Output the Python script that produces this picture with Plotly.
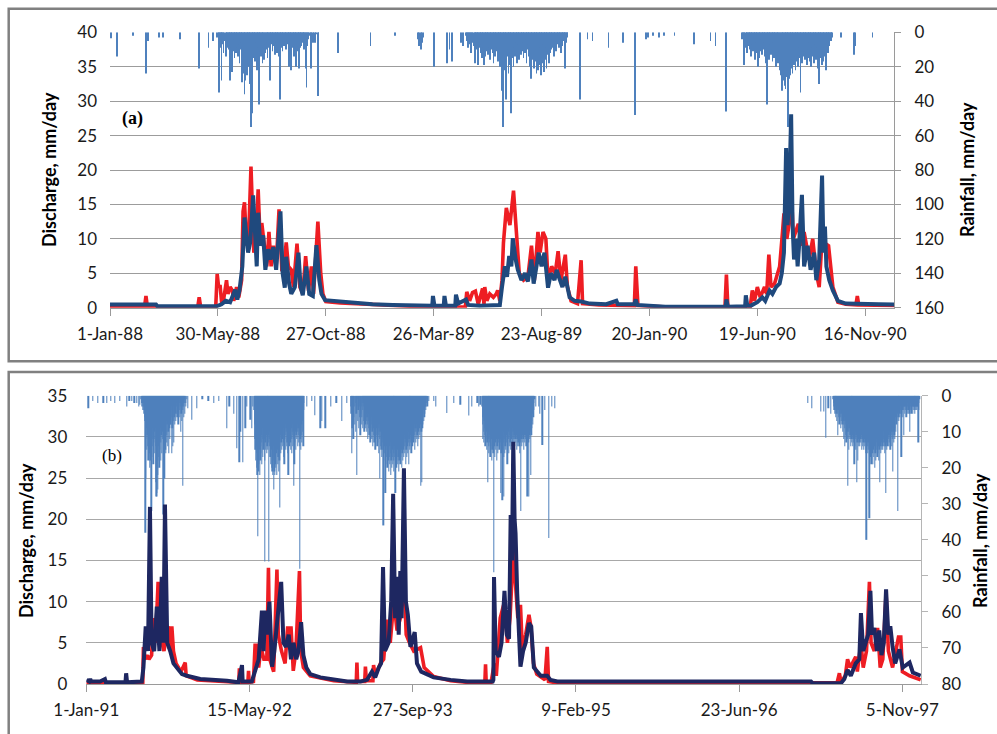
import numpy as np
import pandas as pd
import plotly.graph_objects as go

# ---------------------------------------------------------------------------
# Panel (a): 1988-1990.  Day numbers count from 1-Jan-88.
# ---------------------------------------------------------------------------
START_A = "1988-01-01"

# isolated rain days (day number, mm/day)
rain_a_days = [1, 10, 32, 50, 53, 68, 74, 97, 124, 137, 143, 317, 362, 396,
               428, 430, 432, 434, 436, 450, 469, 472, 475, 488, 491,
               653, 664, 671, 693, 713, 730, 745, 748, 755, 763, 770, 785,
               812, 835, 842, 856, 1016, 1034, 1036, 1060]
rain_a_mm = [3.5, 14, 2, 24, 5, 3, 3, 4, 21, 9, 5, 12, 8, 2,
             4, 8, 10, 6, 3, 20, 18, 10, 17, 6, 8,
             39, 4, 5, 9, 6, 48, 4, 3, 2, 3, 2, 2,
             7, 5, 8, 46, 3, 13, 8, 3]

# wet-season daily rainfall (first day number, one value per day)
wet88_start = 148
wet88_mm = [0, 3, 0, 6, 35, 5, 9, 28, 4, 7,
            12, 5, 0, 14, 8, 3, 9, 10, 6, 28,
            9, 6, 23, 11, 4, 15, 8, 12, 5, 9,
            14, 7, 18, 10, 6, 13, 29, 24, 22, 36,
            28, 12, 25, 18, 14, 20, 8, 30, 55, 18,
            47, 12, 15, 10, 17, 6, 22, 12, 9, 42,
            11, 8, 14, 5, 18, 9, 16, 7, 12, 10,
            6, 15, 9, 4, 28, 12, 7, 3, 11, 8,
            5, 13, 9, 6, 12, 10, 4, 14, 39, 3,
            9, 5, 11, 3, 8, 6, 2, 10, 4, 7,
            3, 20, 6, 4, 22, 2, 9, 5, 14, 3,
            7, 20, 5, 11, 3, 21, 9, 4, 8, 2,
            6, 3, 10, 2, 21, 32, 8, 3, 4, 0,
            2, 21, 5, 0, 6, 3, 0, 6, 1, 0,
            0, 37, 2]

wet89_start = 495
wet89_mm = [2, 5, 0, 9, 4, 0, 7, 12, 3, 6,
            0, 8, 18, 4, 10, 6, 2, 19, 9, 5,
            12, 7, 15, 3, 9, 19, 14, 6, 11, 8,
            4, 13, 9, 16, 7, 10, 5, 12, 18, 8,
            14, 6, 11, 9, 17, 5, 13, 20, 10, 15,
            34, 55, 18, 12, 22, 16, 39, 14, 10, 24,
            13, 19, 8, 47, 15, 11, 20, 9, 14, 6,
            12, 18, 7, 10, 16, 5, 13, 9, 11, 6,
            15, 8, 12, 4, 18, 10, 7, 14, 9, 20,
            27, 11, 16, 8, 21, 13, 17, 10, 24, 15,
            22, 12, 19, 9, 25, 14, 18, 7, 23, 11,
            16, 9, 21, 13, 8, 18, 5, 12, 7, 10,
            4, 9, 14, 3, 8, 11, 5, 7, 2, 9,
            6, 3, 12, 4, 8, 2, 5, 14, 21, 6,
            3, 1]

wet90_start = 878
wet90_mm = [0, 4, 2, 19, 6, 0, 9, 3, 12, 5,
            8, 2, 10, 14, 4, 7, 11, 3, 9, 16,
            6, 12, 5, 20, 15, 8, 11, 4, 13, 7,
            10, 6, 14, 9, 18, 42, 12, 8, 16, 11,
            7, 13, 10, 17, 6, 15, 9, 12, 20, 8,
            14, 18, 11, 22, 16, 25, 34, 19, 28, 24,
            31, 33, 26, 22, 30, 55, 27, 18, 25, 21,
            16, 24, 12, 19, 14, 22, 10, 17, 13, 20,
            9, 15, 35, 12, 18, 8, 14, 11, 16, 7,
            13, 19, 10, 15, 6, 17, 12, 20, 9, 14,
            11, 18, 7, 13, 16, 9, 21, 12, 30, 10,
            15, 8, 19, 11, 17, 9, 14, 22, 20, 6,
            12, 4, 8, 2, 5, 1, 3, 0]

# discharge, mm/day (day number, value)
obs_a_day = [0, 48, 50, 52, 122, 124, 126, 147, 149, 151, 153, 155, 158, 162,
             164, 167, 170, 172, 176, 179, 183, 185, 187, 190, 193, 196, 200,
             203, 206, 209, 211, 215, 218, 221, 224, 227, 231, 235, 239, 242,
             245, 248, 252, 255, 260, 264, 268, 272, 276, 280, 283, 289, 293,
             296, 300, 320, 360, 400, 440, 480, 494, 496, 500, 504, 508, 512,
             518, 520, 521, 524, 528, 533, 537, 539, 542, 545, 547, 551, 556,
             561, 565, 569, 575, 581, 586, 590, 595, 598, 602, 606, 609, 614,
             619, 623, 625, 627, 633, 636, 641, 650, 655, 657, 680, 708, 729,
             731, 734, 755, 775, 855, 857, 859, 890, 893, 896, 900, 904, 910,
             913, 916, 919, 924, 928, 931, 935, 937, 941, 944, 947, 950, 957,
             961, 965, 972, 977, 982, 986, 990, 995, 999, 1005, 1012, 1023,
             1037, 1039, 1041, 1095]
obs_a_q = [0.1, 0.1, 1.7, 0.1, 0.1, 1.5, 0.1, 0.1, 4.9, 3.0, 3.3, 1.0, 1.2, 4.0,
           2.0, 3.0, 2.5, 1.0, 3.0, 1.5, 4.0, 14.0, 15.3, 9, 11, 20.5, 8.0,
           10, 17.2, 9, 12.3, 8, 6, 11.0, 6, 9, 6, 14.3, 5.3, 6,
           9.5, 6, 5.5, 3, 9.3, 3.0, 2, 7.5, 2.5, 6.0, 2.0, 12.5, 5,
           2, 0.9, 0.7, 0.5, 0.2, 0.1, 0.1, 0.1, 2.3, 1.0, 2.2, 2.4, 0.5,
           2.8, 0.5, 3.0, 1.0, 2.0, 1.5, 2.0, 2.5, 1.0, 4, 9.4, 14.5, 12,
           17.0, 10, 5, 4, 4.5, 9, 4, 11.0, 8, 11, 10, 4, 6,
           5, 8.2, 6, 4, 7.7, 3, 1, 0.6, 6.9, 0.6, 0.4, 0.3, 0.3,
           6.0, 0.3, 0.2, 0.1, 0.1, 4.8, 0.1, 0.1, 2.5, 1, 3.0, 1.5, 3.0,
           2.0, 7.7, 3, 3.5, 5, 6, 11.0, 13.7, 10, 12, 18, 10, 12.2,
           9, 11, 7, 10, 5, 3, 10, 9.3, 9, 3, 0.8, 0.5,
           0.4, 1.7, 0.4, 0.3]

sim_a_day = [0, 64, 66, 148, 155, 161, 167, 171, 174, 177, 180, 184, 187, 192,
             195, 199, 202, 204, 206, 209, 213, 216, 220, 223, 227, 231, 237,
             240, 243, 245, 249, 252, 257, 262, 265, 268, 273, 277, 282, 287,
             291, 294, 299, 310, 338, 361, 365, 393, 426, 448, 449, 451, 464,
             465, 467, 480, 481, 484, 495, 498, 514, 523, 542, 545, 549, 552,
             555, 558, 560, 564, 567, 572, 577, 581, 586, 589, 592, 596, 600,
             604, 609, 613, 618, 621, 625, 629, 633, 639, 646, 655, 667, 690,
             704, 706, 729, 731, 733, 764, 772, 856, 857, 859, 883, 884, 886,
             891, 900, 907, 911, 917, 921, 926, 931, 934, 937, 940, 942, 944,
             947, 949, 951, 954, 956, 958, 962, 965, 970, 974, 979, 982, 986,
             990, 992, 994, 996, 1000, 1005, 1012, 1023, 1069, 1095]
sim_a_q = [0.45, 0.45, 0.2, 0.2, 0.5, 1.0, 0.8, 2.0, 2.6, 1.2, 2.5, 6.0, 13.1, 8.0,
           9.5, 16.3, 10, 6.0, 13.8, 9, 10.5, 5.5, 8.5, 7.0, 8.8, 5.5, 14.0,
           5.0, 2.9, 7.4, 3.5, 2.0, 3.0, 8.0, 3.0, 1.8, 6.0, 2.0, 1.7, 9.1,
           4.0, 2.0, 1.1, 1.0, 0.8, 0.6, 0.5, 0.4, 0.3, 0.3, 1.7, 0.3, 0.3,
           1.7, 0.3, 0.3, 1.9, 0.6, 1.2, 0.4, 0.3, 0.3, 0.4, 3.0, 6.0, 4.5,
           7.5, 6, 10.1, 7, 5.5, 4.0, 5.0, 3.8, 7.0, 3.5, 5.5, 8.0, 6,
           8.0, 2.9, 5.0, 4.0, 5.5, 4.2, 3.0, 4.5, 1.5, 1.0, 0.9, 0.6, 0.5,
           1.0, 0.5, 0.5, 1.2, 0.4, 0.3, 0.15, 0.15, 1.2, 0.15, 0.2, 1.8, 0.3,
           0.3, 0.8, 1.5, 1.0, 2.5, 2.0, 3.0, 3.5, 5.0, 8.0, 23.2, 12, 15,
           28.1, 12, 7, 10, 6, 9, 16.4, 6, 9, 5.5, 8, 4, 7,
           19.2, 8, 11.8, 6, 4, 2.5, 1.0, 0.6, 0.5, 0.45]

# ---------------------------------------------------------------------------
# Panel (b): 1991-1997.  Day numbers count from 1-Jan-91.
# ---------------------------------------------------------------------------
START_B = "1991-01-01"

rain_b_days = [6, 20, 35, 52, 62, 75, 88, 103, 124, 132, 140, 147, 155, 160, 164,
               311, 323, 339, 355, 374, 390, 405,
               431, 438, 451, 461, 469, 472, 480, 487, 492, 502, 507, 511,
               676, 690, 701, 717, 722, 732, 750, 766, 783, 799,
               1050, 1064, 1070, 1105, 1125, 1146, 1172, 1180, 1198, 1203, 1207,
               1378, 1386, 1390, 1397, 1405, 1417, 1425, 1435,
               2210, 2223, 2251, 2259, 2266, 2273, 2280]
rain_b_mm = [3.5, 1.5, 2, 2, 2, 1.5, 2, 1.5, 3, 1.5, 1.5, 2, 2, 3, 2.5,
             3.5, 6.7, 3.5, 1, 1.5, 2, 1.5,
             9, 3, 5, 14.6, 18.5, 10, 18.5, 9, 3, 6.7, 9, 3,
             3, 1.5, 5.4, 9, 7, 9, 3, 2, 7, 2,
             1.5, 1.5, 3, 4.8, 2, 2.5, 5.5, 3, 2, 3, 2.5,
             3, 3, 5, 13.7, 4, 39.5, 3, 3.5,
             2, 3.5, 4.4, 4.4, 11.7, 3.5, 5]

wet91_start = 168
wet91_mm = [1, 0, 2, 3, 2, 4, 3, 2, 5, 3,
            4, 7, 6, 38, 12, 23, 9, 15, 8, 11,
            14, 7, 18, 12, 9, 16, 20, 13, 18, 10,
            15, 32, 11, 17, 9, 14, 12, 19, 8, 13,
            10, 16, 12, 9, 14, 24, 28, 27, 20, 28,
            26, 18, 22, 14, 17, 12, 20, 10, 15, 9,
            13, 18, 11, 8, 16, 10, 12, 7, 33, 14,
            9, 23, 12, 8, 15, 10, 16, 7, 11, 13,
            8, 14, 6, 10, 16, 7, 9, 5, 12, 8,
            4, 8, 3, 16, 6, 9, 5, 14, 4, 7,
            13, 3, 6, 2, 8, 5, 3, 7, 2, 5,
            3, 6, 2, 4, 8, 3, 5, 1, 4, 6,
            2, 10, 3, 5, 2, 7, 3, 25, 4, 2,
            6, 3, 1, 5, 2, 0, 3, 2, 0, 1]

wet92_start = 515
wet92_mm = [4, 8, 12, 15, 10, 18, 14, 20, 16, 22,
            39, 17, 21, 13, 19, 15, 22, 12, 18, 14,
            16, 11, 19, 13, 9, 17, 12, 15, 10, 14,
            12, 18, 46, 13, 9, 15, 11, 16, 10, 14,
            12, 9, 15, 11, 13, 46, 10, 14, 12, 17,
            11, 19, 15, 20, 13, 21, 17, 22, 14, 26,
            18, 21, 15, 22, 19, 13, 20, 16, 12, 22,
            15, 19, 13, 17, 21, 12, 18, 31, 14, 11,
            16, 10, 13, 9, 15, 12, 8, 14, 11, 17,
            9, 13, 19, 10, 12, 8, 15, 11, 9, 14,
            10, 13, 8, 16, 22, 12, 9, 14, 11, 8,
            13, 10, 15, 9, 12, 16, 8, 11, 14, 10,
            25, 12, 19, 9, 13, 10, 8, 15, 11, 9,
            12, 8, 14, 10, 9, 13, 7, 11, 10, 14,
            48, 12, 9, 15, 8, 11, 13, 7, 10, 6,
            14, 4, 2]

wet93_start = 809
wet93_mm = [0, 3, 0, 5, 16, 2, 9, 0, 4, 12,
            1, 6, 0, 8, 3, 0, 10, 2, 5, 22,
            3, 0, 7, 1, 4, 9, 2, 0, 6, 3,
            11, 2, 5, 0, 8, 3, 6, 1, 9, 4,
            2, 7, 3, 10, 5, 4, 8, 6, 9, 5,
            7, 10, 6, 8, 12, 5, 9, 7, 11, 6,
            8, 13, 7, 9, 6, 12, 8, 10, 14, 7,
            9, 11, 6, 13, 8, 10, 15, 7, 12, 9,
            11, 8, 14, 10, 7, 13, 9, 16, 11, 8,
            12, 23, 10, 14, 9, 15, 12, 17, 11, 13,
            15, 36, 12, 18, 14, 16, 13, 27, 15, 19,
            14, 17, 12, 20, 16, 13, 18, 15, 21, 14,
            17, 19, 13, 22, 16, 18, 14, 20, 15, 17,
            19, 13, 18, 16, 21, 14, 17, 15, 27, 18,
            16, 20, 14, 18, 15, 19, 13, 17, 21, 15,
            18, 14, 16, 19, 13, 17, 15, 20, 14, 16,
            12, 18, 15, 13, 17, 11, 14, 16, 12, 19,
            13, 15, 11, 17, 14, 12, 16, 10, 13, 19,
            12, 14, 10, 15, 11, 13, 9, 16, 12, 10,
            14, 11, 9, 13, 10, 12, 8, 15, 11, 9,
            13, 10, 8, 12, 9, 11, 7, 14, 10, 8,
            12, 9, 7, 11, 8, 25, 6, 10, 24, 7,
            9, 5, 8, 4, 7, 3, 6, 2, 5, 3,
            4, 1, 3, 0, 2, 1, 3]

wet94_start = 1213
wet94_mm = [3, 8, 12, 6, 10, 13, 7, 11, 9, 14,
            8, 12, 10, 15, 9, 13, 11, 24, 10, 14,
            12, 16, 9, 13, 11, 17, 10, 14, 12, 18,
            11, 15, 13, 10, 16, 12, 49, 14, 11, 17,
            13, 10, 15, 12, 18, 11, 14, 9, 16, 12,
            13, 10, 15, 11, 14, 12, 27, 13, 16, 11,
            14, 29, 12, 15, 10, 17, 28, 13, 11, 16,
            12, 14, 10, 15, 11, 13, 9, 19, 12, 14,
            10, 16, 12, 9, 14, 11, 13, 10, 15, 12,
            11, 14, 9, 13, 16, 10, 12, 15, 11, 9,
            14, 12, 10, 13, 11, 15, 9, 12, 14, 10,
            13, 11, 9, 14, 12, 10, 16, 11, 13, 32,
            12, 10, 14, 11, 9, 13, 12, 10, 15, 11,
            9, 13, 11, 12, 10, 14, 9, 12, 28, 11,
            10, 13, 9, 28, 11, 8, 12, 10, 22, 9,
            11, 7, 9, 5, 8, 3, 6, 2, 4, 1]

wet97_start = 2288
wet97_mm = [1, 3, 2, 4, 3, 5, 2, 4, 6, 3,
            5, 4, 7, 3, 11, 5, 4, 6, 3, 8,
            5, 7, 4, 6, 9, 5, 7, 4, 8, 6,
            10, 7, 12, 8, 6, 14, 9, 7, 11, 8,
            13, 9, 7, 10, 25, 12, 8, 15, 10, 9,
            12, 8, 11, 14, 9, 12, 10, 13, 8, 11,
            14, 10, 12, 9, 13, 19, 11, 14, 10, 12,
            15, 11, 9, 24, 13, 18, 10, 12, 14, 11,
            13, 10, 14, 12, 9, 13, 11, 15, 10, 12,
            14, 11, 13, 10, 15, 12, 14, 11, 13, 12,
            16, 40, 13, 15, 11, 14, 12, 16, 13, 15,
            12, 34, 14, 11, 17, 13, 15, 19, 12, 14,
            16, 13, 19, 15, 12, 17, 14, 20, 13, 16,
            14, 18, 12, 15, 13, 17, 11, 16, 14, 18,
            13, 15, 24, 12, 14, 16, 11, 13, 15, 12,
            14, 11, 13, 15, 12, 14, 10, 13, 16, 12,
            14, 11, 27, 13, 15, 12, 14, 10, 13, 11,
            12, 14, 10, 13, 11, 15, 9, 12, 10, 14,
            11, 9, 21, 12, 10, 13, 8, 11, 9, 12,
            6, 10, 5, 8, 4, 7, 5, 3, 32, 6,
            4, 7, 3, 5, 4, 6, 3, 5, 4, 17,
            3, 5, 4, 2, 6, 3, 4, 11, 3, 2,
            5, 3, 4, 2, 6, 3, 4, 2, 5, 3,
            4, 2, 3, 5, 10, 3, 2, 4, 3, 5,
            2, 4, 3, 2, 5, 3, 4, 2, 3, 4,
            2, 5, 3, 2, 4, 3, 2, 4, 3, 2,
            3, 13, 2, 4, 1]

obs_b_day = [0, 173, 175, 180, 186, 192, 200, 206, 212, 220, 226, 232, 238, 245,
             252, 257, 262, 267, 275, 290, 303, 306, 340, 420, 467, 469, 471,
             495, 497, 499, 512, 517, 523, 528, 535, 544, 553, 558, 562, 574,
             584, 588, 598, 609, 617, 622, 627, 634, 642, 653, 657, 665, 686,
             758, 805, 827, 829, 831, 853, 855, 858, 878, 880, 885, 901, 911,
             921, 931, 942, 952, 962, 973, 980, 990, 1003, 1024, 1035, 1064,
             1116, 1167, 1221, 1223, 1225, 1240, 1250, 1256, 1268, 1274, 1281,
             1290, 1298, 1308, 1315, 1322, 1330, 1336, 1346, 1356, 1362, 1370,
             1380, 1405, 1412, 1416, 1440, 2300, 2307, 2312, 2325, 2332, 2340,
             2357, 2362, 2373, 2380, 2390, 2399, 2404, 2414, 2424, 2432, 2440,
             2450, 2457, 2470, 2488, 2495, 2500, 2522, 2556]
obs_b_q = [0.1, 0.1, 4.5, 3.0, 3.5, 3.0, 3.5, 8.0, 5.0, 12.4, 6.0, 5.0, 4.0, 6.0,
           7.0, 4.0, 7.0, 4.0, 2.5, 1.5, 2.6, 1.0, 0.5, 0.3, 0.2, 1.9, 0.2,
           0.2, 1.6, 0.2, 0.3, 4.7, 4.7, 2.0, 4.5, 3.0, 3.0, 14.1, 3.0, 1.5,
           13.9, 6.0, 4.0, 2.5, 7.0, 5.0, 7.0, 1.6, 4.0, 13.7, 4.0, 2.0, 1.0,
           0.4, 0.2, 0.2, 2.6, 0.3, 0.3, 2.1, 0.4, 0.4, 2.3, 1.0, 2.5, 3.0,
           7.8, 5.0, 10.0, 6.5, 8.0, 13.0, 6.0, 5.0, 4.0, 4.4, 2.0, 0.9,
           0.4, 0.2, 0.2, 2.4, 0.2, 0.2, 2.5, 1.0, 8.0, 9.0, 10.0,
           5.0, 8.0, 16.0, 11.8, 8.0, 9.6, 4.0, 6.0, 8.4, 7.0, 2.5,
           1.2, 0.5, 4.5, 0.3, 0.15, 0.15, 1.3, 0.2, 1.0, 3.0, 2.0,
           3.3, 1.5, 5.0, 2.0, 4.0, 12.4, 5.0, 4.0, 6.8, 2.0, 3.0,
           11.0, 4.0, 2.0, 5.7, 5.7, 1.5, 1.0, 0.5]

sim_b_day = [0, 9, 12, 15, 42, 57, 60, 120, 122, 125, 170, 175, 182, 189, 195,
             200, 208, 216, 224, 231, 236, 241, 248, 257, 267, 277, 293, 308,
             349, 431, 466, 477, 479, 507, 517, 528, 538, 543, 548, 554, 561,
             569, 576, 584, 592, 597, 604, 612, 620, 627, 635, 643, 650, 658,
             665, 674, 686, 717, 758, 799, 840, 860, 875, 885, 896, 903, 909,
             915, 926, 934, 940, 946, 952, 957, 962, 966, 973, 979, 985, 993,
             1006, 1013, 1026, 1064, 1116, 1167, 1245, 1247, 1249, 1254, 1264,
             1272, 1281, 1288, 1295, 1300, 1304, 1308, 1312, 1315, 1320, 1325,
             1330, 1338, 1346, 1356, 1363, 1371, 1381, 1392, 1412, 1422, 1443,
             2220, 2225, 2312, 2322, 2332, 2342, 2357, 2368, 2373, 2380, 2389,
             2395, 2402, 2407, 2414, 2422, 2429, 2436, 2443, 2450, 2457, 2463,
             2470, 2478, 2491, 2501, 2522, 2532, 2556]
sim_b_q = [0.5, 0.3, 0.6, 0.3, 0.3, 0.6, 0.2, 0.2, 1.3, 0.2, 0.3, 2.0, 7.0, 4.0, 21.5,
           5.0, 4.0, 9.4, 4.0, 13.0, 5.0, 21.8, 5.0, 4.0, 2.5, 2.0, 1.2, 1.0,
           0.6, 0.4, 0.2, 2.3, 0.3, 0.3, 1.5, 3.0, 8.9, 4.0, 8.9, 6.0, 10.0,
           2.1, 4.0, 8.0, 10.5, 12.4, 5.0, 4.5, 6.0, 3.0, 5.0, 3.0, 4.0, 7.5,
           3.5, 2.0, 1.2, 0.8, 0.6, 0.3, 0.3, 0.5, 1.5, 0.8, 2.0, 2.5, 14.2,
           4.0, 5.0, 10.0, 23.1, 8.0, 13.0, 6.0, 13.7, 8.0, 26.2, 10.0, 8.4, 4.5,
           6.3, 2.5, 1.5, 0.8, 0.5, 0.3, 0.3, 0.5, 13.0, 4.0, 3.3,
           5.0, 11.3, 6.0, 5.5, 20.5, 15.0, 29.4, 20.0, 18.3, 11.0, 6.0,
           2.1, 4.0, 5.0, 7.4, 7.0, 2.0, 1.5, 1.0, 1.0, 0.5, 0.3,
           0.3, 0.1, 0.1, 0.6, 1.7, 1.0, 2.5, 3.0, 8.6, 4.0, 5.0,
           6.0, 11.3, 6.0, 6.8, 4.0, 6.5, 3.5, 5.0, 11.5, 6.0, 7.0,
           4.5, 2.5, 4.2, 2.0, 2.6, 1.4, 1.0]

# ---------------------------------------------------------------------------
# helpers
# ---------------------------------------------------------------------------
DAY_MS = 86400000


def to_dates(start, days):
    return pd.Timestamp(start) + pd.to_timedelta(np.asarray(days, dtype=float), unit="D")


def rain_series(start, single_days, single_mm, seasons):
    days = list(single_days)
    mm = list(single_mm)
    for first, vals in seasons:
        days += list(range(first, first + len(vals)))
        mm += list(vals)
    order = np.argsort(days, kind="stable")
    return to_dates(start, np.asarray(days)[order]), np.asarray(mm, dtype=float)[order]


rain_a_x, rain_a_y = rain_series(START_A, rain_a_days, rain_a_mm,
                                 [(wet88_start, wet88_mm), (wet89_start, wet89_mm),
                                  (wet90_start, wet90_mm)])
rain_b_x, rain_b_y = rain_series(START_B, rain_b_days, rain_b_mm,
                                 [(wet91_start, wet91_mm), (wet92_start, wet92_mm),
                                  (wet93_start, wet93_mm), (wet94_start, wet94_mm),
                                  (wet97_start, wet97_mm)])

# ---------------------------------------------------------------------------
# styling
# ---------------------------------------------------------------------------
W, H = 997, 734
RAIN = "#4F81BD"
RED = "#EE1D23"
BLUE_A = "#1F497D"
NAVY_B = "#1E2761"
GRID = "#9c9c9c"
AXIS = "#9a9a9a"
FRAME = "#808080"
TXT = "#1a1a1a"
FONT = "Lato"


def px_x(p):
    return p / W


def px_y(p):
    return 1 - p / H


fig = go.Figure()

# panel (a)
fig.add_trace(go.Bar(x=rain_a_x, y=rain_a_y, width=DAY_MS, xaxis="x", yaxis="y",
                     marker=dict(color=RAIN, line=dict(width=0)), showlegend=False))
fig.add_trace(go.Scatter(x=to_dates(START_A, obs_a_day), y=obs_a_q, xaxis="x", yaxis="y2",
                         mode="lines", line=dict(color=RED, width=3.6), showlegend=False))
fig.add_trace(go.Scatter(x=to_dates(START_A, sim_a_day), y=sim_a_q, xaxis="x", yaxis="y2",
                         mode="lines", line=dict(color=BLUE_A, width=4), showlegend=False))

# panel (b)
fig.add_trace(go.Bar(x=rain_b_x, y=rain_b_y, width=DAY_MS, xaxis="x2", yaxis="y3",
                     marker=dict(color=RAIN, line=dict(width=0)), showlegend=False))
fig.add_trace(go.Scatter(x=to_dates(START_B, obs_b_day), y=obs_b_q, xaxis="x2", yaxis="y4",
                         mode="lines", line=dict(color=RED, width=3.6), showlegend=False))
fig.add_trace(go.Scatter(x=to_dates(START_B, sim_b_day), y=sim_b_q, xaxis="x2", yaxis="y4",
                         mode="lines", line=dict(color=NAVY_B, width=4), showlegend=False))

tick_font = dict(family=FONT, size=17, color=TXT)

ticks_a = pd.date_range(START_A, periods=8, freq="150D")
ticks_b = pd.date_range(START_B, periods=6, freq="500D")

xa_common = dict(type="date", tickformat="%-d-%b-%y", ticks="outside", ticklen=7,
                 tickcolor=AXIS, showline=True, linecolor=AXIS, linewidth=1,
                 showgrid=False, zeroline=False, tickfont=tick_font,
                 ticklabelstandoff=4, automargin=False)

fig.update_layout(
    width=W, height=H, autosize=False,
    margin=dict(l=0, r=0, t=0, b=0, autoexpand=False),
    paper_bgcolor="white", plot_bgcolor="rgba(0,0,0,0)",
    barmode="overlay", showlegend=False,
    xaxis=dict(domain=[px_x(110), px_x(894)], anchor="y",
               range=[pd.Timestamp(START_A), pd.Timestamp(START_A) + pd.Timedelta(days=1090)],
               tickvals=ticks_a, **xa_common),
    yaxis=dict(domain=[px_y(307.7), px_y(32.3)], anchor="x", side="right",
               range=[160, 0], tickvals=list(range(0, 161, 20)),
               showline=True, linecolor=AXIS, ticks="outside", ticklen=6, tickcolor=AXIS,
               showgrid=False, zeroline=False, tickfont=tick_font, ticklabelstandoff=10,
               automargin=False),
    yaxis2=dict(overlaying="y", anchor="x", side="left", range=[0, 40], dtick=5,
                showgrid=True, gridcolor=GRID, gridwidth=1, zeroline=False,
                showline=False, ticks="", tickfont=tick_font, ticklabelstandoff=12,
                automargin=False),
    xaxis2=dict(domain=[px_x(86.3), px_x(921)], anchor="y3",
                range=[pd.Timestamp(START_B), pd.Timestamp(START_B) + pd.Timedelta(days=2557)],
                tickvals=ticks_b, **xa_common),
    yaxis3=dict(domain=[px_y(684), px_y(395.7)], anchor="x2", side="right",
                range=[80, 0], tickvals=list(range(0, 81, 10)),
                showline=True, linecolor="#b5b5b5", ticks="outside", ticklen=6, tickcolor="#b5b5b5",
                showgrid=False, zeroline=False, tickfont=tick_font, ticklabelstandoff=10,
                automargin=False),
    yaxis4=dict(overlaying="y3", anchor="x2", side="left", range=[0, 35], dtick=5,
                showgrid=True, gridcolor="#a8a8a8", gridwidth=1, zeroline=False,
                showline=False, ticks="", tickfont=tick_font, ticklabelstandoff=18,
                automargin=False),
)

title_font = dict(family=FONT, size=18, color="black")
annotations = [
    dict(text="<b>Discharge, mm/day</b>", x=px_x(49), y=px_y(170), textangle=-90),
    dict(text="<b>Rainfall, mm/day</b>", x=px_x(967), y=px_y(170), textangle=-90),
    dict(text="<b>Discharge, mm/day</b>", x=px_x(26), y=px_y(541), textangle=-90),
    dict(text="<b>Rainfall, mm/day</b>", x=px_x(980), y=px_y(541), textangle=-90),
]
for a in annotations:
    a.update(xref="paper", yref="paper", xanchor="center", yanchor="middle",
             showarrow=False, font=title_font)
annotations.append(dict(text="<b>(a)</b>", x=px_x(132), y=px_y(118), xref="paper", yref="paper",
                        xanchor="center", yanchor="middle", showarrow=False,
                        font=dict(family="Liberation Serif", size=18, color="black")))
annotations.append(dict(text="(b)", x=px_x(112), y=px_y(455), xref="paper", yref="paper",
                        xanchor="center", yanchor="middle", showarrow=False,
                        font=dict(family="Liberation Serif", size=17, color="black")))
fig.update_layout(annotations=annotations)

# frames around the two panels
fig.update_layout(shapes=[
    dict(type="rect", xref="paper", yref="paper", x0=px_x(8.7), x1=1.02,
         y0=px_y(361.3), y1=px_y(8.7), line=dict(color=FRAME, width=2.5)),
    dict(type="rect", xref="paper", yref="paper", x0=px_x(8.7), x1=1.02,
         y0=-0.02, y1=px_y(372), line=dict(color=FRAME, width=2.5)),
])

fig.write_html("out.html")
